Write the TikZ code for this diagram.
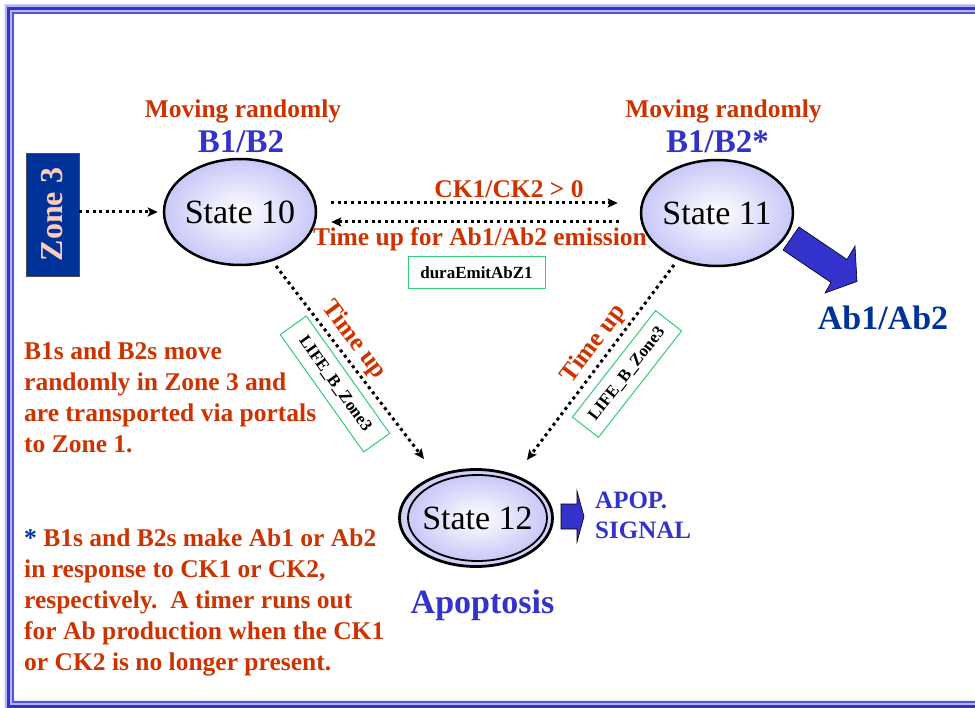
\documentclass[tikz,border=0pt]{standalone}
\usepackage{fontspec}
\setmainfont{Liberation Serif}
\usetikzlibrary{arrows.meta,shapes.geometric,calc}

\definecolor{labelred}{HTML}{CC3300}
\definecolor{labelblue}{HTML}{3333CC}
\definecolor{navy}{HTML}{003399}
\definecolor{lav}{HTML}{C8C8F8}
\definecolor{framelight}{HTML}{B4B4F0}
\definecolor{framedark}{HTML}{3333CC}
\definecolor{framethin}{HTML}{5555D8}
\definecolor{boxgreen}{HTML}{33CC77}
\definecolor{zonepink}{HTML}{FFCCBB}

\tikzset{
  statenode/.style={ellipse, draw=black, line width=2.5pt, inner sep=0pt,
    minimum width=152pt, minimum height=106pt,
    inner color=white, outer color=lav,
    font=\fontsize{34}{40}\selectfont},
  dotarrow/.style={line width=3pt, dash pattern=on 3pt off 3.6pt,
    -{Stealth[length=10pt,width=9pt,inset=2pt]}},
  redlbl/.style={inner sep=0pt, text=labelred, font=\bfseries\fontsize{25.5}{31}\selectfont},
  bluelbl/.style={inner sep=0pt, text=labelblue, font=\bfseries\fontsize{33}{38}\selectfont},
  bodytxt/.style={anchor=base west, inner sep=0pt, text=labelred,
    font=\bfseries\fontsize{25.5}{31}\selectfont},
  tagbox/.style={draw=boxgreen, line width=1pt, inner sep=0pt, fill=white,
    font=\bfseries\fontsize{17}{20}\selectfont},
  blockarrow/.style={fill=labelblue, draw=black, line width=0.6pt, line join=miter}
}

\begin{document}
\begin{tikzpicture}[x=1pt,y=-1pt]
\useasboundingbox (0,0) rectangle (975,708);

% slide frame: light band with a thick and a thin dark rule
\fill[framelight, even odd rule] (4.5,4.5) rectangle (995,708) (14,14) rectangle (985,700.5);
\draw[framedark, line width=3pt] (8.5,8.5) rectangle (990,706.5);
\draw[framethin, line width=1.6pt] (12.8,12.8) rectangle (986,701.8);

% emission arrow leaving State 11 (drawn first so the ellipse sits on top)
\filldraw[blockarrow] (799,227) -- (847,259.5) -- (855,246) -- (857,281.5)
  -- (825,293) -- (831,282.5) -- (783,250) -- cycle;

% Zone 3 block
\node[draw=black!70, line width=0.6pt, fill=navy, minimum width=53pt, minimum height=123pt,
  inner sep=0pt, text=zonepink, font=\bfseries\fontsize{32}{36}\selectfont]
  (zone) at (52.5,214.5) {\rotatebox{90}{Zone 3}};

% states
\node[statenode] (s10) at (240,212) {\makebox[0pt]{State 10}};
\node[statenode] (s11) at (717,213) {\makebox[0pt]{State 11}};
\node[ellipse, draw=black, line width=2.8pt, fill=lav!85, minimum width=153pt,
  minimum height=97pt, inner sep=0pt] (s12) at (476,518) {};
\node[statenode, line width=1.8pt, minimum width=139pt, minimum height=86pt]
  (s12in) at (477.5,518) {\makebox[0pt]{State 12}};

% titles above the states
\node[redlbl, anchor=base] (mv10) at (243,118) {Moving randomly};
\node[bluelbl, anchor=base] (b10) at (241,153) {B1/B2};
\node[redlbl, anchor=base] (mv11) at (723.5,118) {Moving randomly};
\node[bluelbl, anchor=base] (b11) at (717.5,153) {B1/B2*};

% transitions
\draw[dotarrow] (zone.east |- s10.west) -- ([xshift=-5pt]s10.west);
\draw[dotarrow] ([shift={(14,-9)}]s10.east) -- ([shift={(-22,-10)}]s11.west);
\draw[dotarrow] ([shift={(-21,9)}]s11.west) -- ([shift={(14,10)}]s10.east);
\draw[dotarrow] ([shift={(36,54)}]s10.center) -- ([shift={(-52,-59)}]s12.center);
\draw[dotarrow] ([shift={(-43,52)}]s11.center) -- ([shift={(51,-58)}]s12.center);

% transition labels
\node[redlbl, anchor=base] (ck) at (509,198) {CK1/CK2 > 0};
\node[redlbl, anchor=base] (tup) at (480,246) {Time up for Ab1/Ab2 emission};
\node[tagbox, minimum width=137pt, minimum height=32pt] (dura) at (476.5,273) {duraEmitAbZ1};
\node[redlbl, rotate=-53] (tu1) at (354,340) {Time up};
\node[redlbl, rotate=53] (tu2) at (594,344) {Time up};
\node[tagbox, rotate=-54.6, minimum width=144pt, minimum height=32pt] (lb1) at (335,384) {LIFE\_B\_Zone3};
\node[tagbox, rotate=52, minimum width=135pt, minimum height=33pt] (lb2) at (627,374) {LIFE\_B\_Zone3};

% outputs
\node[inner sep=0pt, anchor=base, text=navy, font=\bfseries\fontsize{34}{38}\selectfont]
  (ab) at (883,330) {Ab1/Ab2};
\filldraw[blockarrow] (561,504) -- (577,504) -- (577,491) -- (584,516.5)
  -- (577,542) -- (577,529) -- (561,529) -- cycle;
\node[inner sep=0pt, anchor=base west, text=labelblue, font=\bfseries\fontsize{25}{30}\selectfont]
  (apop1) at (595,508) {APOP.};
\node[inner sep=0pt, anchor=base west, text=labelblue, font=\bfseries\fontsize{25}{30}\selectfont]
  (apop2) at (595,538) {SIGNAL};
\node[inner sep=0pt, anchor=base, text=labelblue, font=\bfseries\fontsize{34}{38}\selectfont]
  (apo) at (482.5,613) {Apoptosis};

% notes
\node[bodytxt] (n1a) at (24,360) {B1s and B2s move};
\node[bodytxt] (n1b) at (24,391) {randomly in Zone 3 and};
\node[bodytxt] (n1c) at (24,422) {are transported via portals};
\node[bodytxt] (n1d) at (24,453) {to Zone 1.};
\node[bodytxt] (n2a) at (24,546) {\textcolor{navy}{*} B1s and B2s make Ab1 or Ab2};
\node[bodytxt] (n2b) at (24,577) {in response to CK1 or CK2,};
\node[bodytxt] (n2c) at (24,608) {respectively.\ \ A timer runs out};
\node[bodytxt] (n2d) at (24,639) {for Ab production when the CK1};
\node[bodytxt] (n2e) at (24,670) {or CK2 is no longer present.};
\end{tikzpicture}
\end{document}
